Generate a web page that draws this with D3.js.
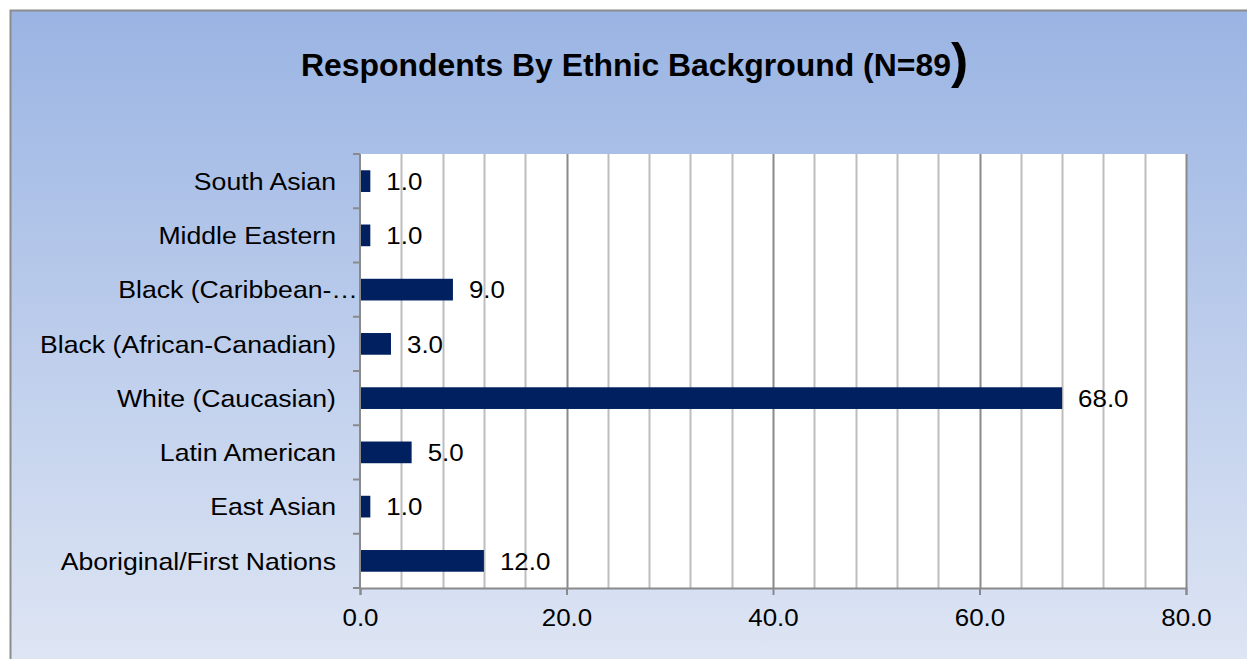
<!DOCTYPE html>
<html>
<head>
<meta charset="utf-8">
<script src="https://cdn.jsdelivr.net/npm/d3@7"></script>
<style>
  body { margin: 0; background: #fff; }
  text { font-family: "Liberation Sans", Arial, sans-serif; }
</style>
</head>
<body>
<svg width="1247" height="659"></svg>
<script>
// chart data, listed top to bottom as in the picture
var categories = ["South Asian", "Middle Eastern", "Black (Caribbean-\u2026", "Black (African-Canadian)",
                  "White (Caucasian)", "Latin American", "East Asian", "Aboriginal/First Nations"];
var values = [1.0, 1.0, 9.0, 3.0, 68.0, 5.0, 1.0, 12.0];
var xTicks = [0, 20, 40, 60, 80];
var gridTicks = d3.range(0, 81, 4);

var svg = d3.select("svg"),
    width = +svg.attr("width"),
    height = +svg.attr("height");

var margin = { left: 360, right: 61, top: 154, bottom: 71 };
var stretch = 1.08; // reference text is a bit wider than Liberation Sans
var labelStretch = 1.11;

// background gradient
var defs = svg.append("defs");
var grad = defs.append("linearGradient")
    .attr("id", "bg").attr("x1", 0).attr("y1", 0).attr("x2", 0).attr("y2", 1);
grad.append("stop").attr("offset", "0%").attr("stop-color", "#9ab4e3");
grad.append("stop").attr("offset", "100%").attr("stop-color", "#dfe6f4");

svg.append("rect")
    .attr("x", 10.5).attr("y", 10.5)
    .attr("width", width).attr("height", height)
    .attr("fill", "url(#bg)")
    .attr("stroke", "#8c8c8c").attr("stroke-width", 2);

// title
var title = svg.append("text")
    .attr("transform", "translate(301,76) scale(1.03,1)")
    .attr("font-weight", "bold")
    .attr("font-size", 31)
    .attr("fill", "#000");
title.append("tspan").text("Respondents By Ethnic Background (N=89");
title.append("tspan").attr("font-size", 50).attr("dy", 2).text(")");

var x = d3.scaleLinear()
    .domain([0, 80])
    .range([margin.left, width - margin.right]);

var y = d3.scaleBand()
    .domain(categories)
    .range([margin.top, height - margin.bottom])
    .paddingInner(0.6)
    .paddingOuter(0.3);

var plotTop = margin.top, plotBottom = height - margin.bottom;

// plot area
svg.append("rect")
    .attr("x", x(0)).attr("y", plotTop)
    .attr("width", x(80) - x(0)).attr("height", plotBottom - plotTop)
    .attr("fill", "#fff");

// gridlines
svg.append("g")
    .selectAll("line")
    .data(gridTicks.filter(function (d) { return d > 0; }))
    .enter().append("line")
    .attr("x1", function (d) { return Math.round(x(d)) + 0.5; })
    .attr("x2", function (d) { return Math.round(x(d)) + 0.5; })
    .attr("y1", plotTop).attr("y2", plotBottom)
    .attr("stroke", function (d) { return d % 20 === 0 ? "#8a8a8a" : "#bdbdbd"; })
    .attr("stroke-width", 2);

// bars
svg.append("g")
    .selectAll("rect")
    .data(values)
    .enter().append("rect")
    .attr("x", x(0))
    .attr("y", function (d, i) { return y(categories[i]); })
    .attr("width", function (d) { return x(d) - x(0); })
    .attr("height", y.bandwidth())
    .attr("fill", "#00205f");

// value labels
svg.append("g")
    .selectAll("text")
    .data(values)
    .enter().append("text")
    .attr("transform", function (d, i) {
        return "translate(" + (x(d) + 16) + "," + (y(categories[i]) + y.bandwidth() / 2) + ") scale(" + stretch + ",1)";
    })
    .attr("dy", "0.36em")
    .attr("font-size", 24)
    .attr("fill", "#000")
    .text(function (d) { return d.toFixed(1); });

// y axis
var yAxis = svg.append("g")
    .attr("transform", "translate(" + x(0) + ",0)");
yAxis.append("line")
    .attr("x1", 0).attr("x2", 0).attr("y1", plotTop).attr("y2", plotBottom)
    .attr("stroke", "#8a8a8a").attr("stroke-width", 2);
var step = (plotBottom - plotTop) / categories.length;
yAxis.selectAll("line.tick")
    .data(d3.range(categories.length + 1))
    .enter().append("line")
    .attr("class", "tick")
    .attr("x1", -7).attr("x2", 0)
    .attr("y1", function (i) { return plotTop + i * step; })
    .attr("y2", function (i) { return plotTop + i * step; })
    .attr("stroke", "#8a8a8a").attr("stroke-width", 2);
yAxis.selectAll("text")
    .data(categories)
    .enter().append("text")
    .attr("transform", function (d) {
        // truncated labels run right up to the axis
        var lx = d.slice(-1) === "\u2026" ? -2 : -24;
        return "translate(" + lx + "," + (y(d) + y.bandwidth() / 2) + ") scale(" + labelStretch + ",1)";
    })
    .attr("dy", "0.36em")
    .attr("text-anchor", "end")
    .attr("font-size", 24)
    .attr("fill", "#000")
    .text(function (d) { return d; });

// x axis
var xAxis = d3.axisBottom(x)
    .tickValues(xTicks)
    .tickSize(7)
    .tickPadding(14)
    .tickFormat(d3.format(".1f"));
var gx = svg.append("g")
    .attr("transform", "translate(0," + plotBottom + ")")
    .call(xAxis);
gx.select(".domain").attr("stroke", "#8a8a8a").attr("stroke-width", 2);
gx.selectAll(".tick line").attr("stroke", "#8a8a8a").attr("stroke-width", 2);
gx.selectAll(".tick text")
    .attr("font-size", 24)
    .attr("font-family", "Liberation Sans, Arial, sans-serif")
    .attr("transform", "scale(" + stretch + ",1)")
    .attr("fill", "#000");
</script>
</body>
</html>
